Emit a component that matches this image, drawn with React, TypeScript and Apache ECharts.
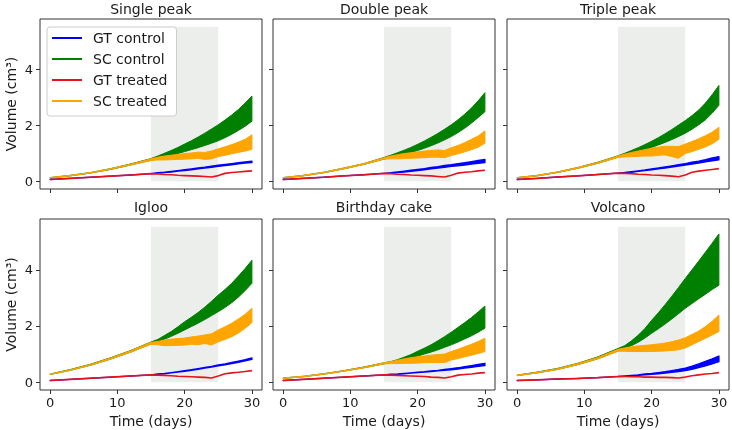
import React, { useEffect, useRef } from 'react';
import * as echarts from 'echarts';

const DAYS = [0, 3, 6, 9, 12, 15, 16, 17, 18, 19, 20, 21, 22, 23, 24, 25, 26, 27, 28, 29, 30];
const PANEL_TITLES = ['Single peak', 'Double peak', 'Triple peak', 'Igloo', 'Birthday cake', 'Volcano'];
const X_TICKS = [0, 10, 20, 30];
const Y_TICKS = [0, 2, 4];
const TREATMENT_WINDOW = [15, 25];
const TREATMENT_TOP = 5.53;

// SC control (green) band, lower and upper edges, one row per panel
const SC_CONTROL_LO = [
  [0.11, 0.19, 0.29, 0.42, 0.58, 0.75, 0.8, 0.86, 0.92, 0.99, 1.06, 1.13, 1.2, 1.28, 1.36, 1.45, 1.56, 1.68, 1.82, 1.97, 2.15],
  [0.11, 0.19, 0.3, 0.44, 0.6, 0.79, 0.85, 0.9, 0.96, 1.03, 1.1, 1.18, 1.27, 1.37, 1.48, 1.6, 1.74, 1.9, 2.08, 2.28, 2.49],
  [0.11, 0.19, 0.31, 0.46, 0.64, 0.86, 0.92, 0.98, 1.05, 1.13, 1.21, 1.3, 1.39, 1.49, 1.6, 1.72, 1.86, 2.02, 2.2, 2.44, 2.72],
  [0.27, 0.42, 0.6, 0.82, 1.07, 1.36, 1.44, 1.53, 1.63, 1.74, 1.86, 1.98, 2.1, 2.23, 2.37, 2.51, 2.66, 2.83, 3.03, 3.26, 3.52],
  [0.13, 0.19, 0.28, 0.39, 0.51, 0.65, 0.7, 0.74, 0.79, 0.86, 0.93, 1.0, 1.07, 1.15, 1.24, 1.33, 1.43, 1.54, 1.65, 1.78, 1.92],
  [0.23, 0.33, 0.45, 0.62, 0.83, 1.11, 1.2, 1.3, 1.42, 1.57, 1.74, 1.9, 2.07, 2.25, 2.44, 2.63, 2.8, 2.97, 3.13, 3.3, 3.45],
];
const SC_CONTROL_HI = [
  [0.13, 0.21, 0.31, 0.45, 0.62, 0.81, 0.9, 1.0, 1.1, 1.21, 1.33, 1.45, 1.58, 1.72, 1.87, 2.02, 2.19, 2.37, 2.57, 2.8, 3.05],
  [0.13, 0.21, 0.32, 0.47, 0.63, 0.85, 0.93, 1.02, 1.11, 1.21, 1.32, 1.44, 1.57, 1.71, 1.86, 2.02, 2.2, 2.4, 2.62, 2.88, 3.17],
  [0.13, 0.21, 0.33, 0.49, 0.68, 0.91, 1.0, 1.1, 1.2, 1.31, 1.43, 1.56, 1.7, 1.85, 2.01, 2.17, 2.35, 2.55, 2.8, 3.1, 3.43],
  [0.29, 0.45, 0.64, 0.87, 1.13, 1.43, 1.52, 1.66, 1.8, 1.97, 2.15, 2.31, 2.48, 2.67, 2.88, 3.1, 3.3, 3.52, 3.78, 4.05, 4.34],
  [0.15, 0.21, 0.3, 0.41, 0.54, 0.69, 0.73, 0.8, 0.89, 0.98, 1.1, 1.21, 1.33, 1.47, 1.62, 1.78, 1.95, 2.12, 2.3, 2.5, 2.71],
  [0.25, 0.36, 0.49, 0.67, 0.9, 1.2, 1.3, 1.47, 1.67, 1.91, 2.2, 2.47, 2.76, 3.06, 3.37, 3.69, 4.0, 4.31, 4.63, 4.95, 5.28],
];

// SC treated (orange) band
const SC_TREATED_LO = [
  [0.11, 0.19, 0.29, 0.43, 0.58, 0.74, 0.76, 0.76, 0.77, 0.78, 0.79, 0.8, 0.82, 0.78, 0.8, 0.88, 0.93, 0.98, 1.03, 1.08, 1.14],
  [0.11, 0.19, 0.3, 0.44, 0.6, 0.79, 0.8, 0.8, 0.81, 0.82, 0.83, 0.84, 0.86, 0.86, 0.84, 0.92, 0.98, 1.05, 1.13, 1.22, 1.36],
  [0.11, 0.19, 0.31, 0.46, 0.64, 0.85, 0.87, 0.88, 0.89, 0.9, 0.9, 0.93, 0.94, 0.88, 0.82, 0.99, 1.06, 1.14, 1.23, 1.34, 1.5],
  [0.27, 0.42, 0.6, 0.82, 1.07, 1.35, 1.33, 1.3, 1.3, 1.31, 1.32, 1.35, 1.33, 1.38, 1.32, 1.44, 1.52, 1.62, 1.75, 1.92, 2.12],
  [0.13, 0.19, 0.28, 0.39, 0.51, 0.65, 0.66, 0.66, 0.67, 0.67, 0.68, 0.69, 0.7, 0.7, 0.7, 0.79, 0.84, 0.9, 0.96, 1.02, 1.09],
  [0.23, 0.33, 0.45, 0.62, 0.83, 1.1, 1.1, 1.09, 1.09, 1.09, 1.09, 1.1, 1.11, 1.13, 1.15, 1.22, 1.33, 1.45, 1.56, 1.68, 1.8],
];
const SC_TREATED_HI = [
  [0.13, 0.21, 0.31, 0.45, 0.61, 0.8, 0.86, 0.9, 0.93, 0.96, 0.99, 1.01, 1.04, 1.03, 1.08, 1.16, 1.23, 1.31, 1.4, 1.5, 1.66],
  [0.13, 0.21, 0.32, 0.47, 0.63, 0.84, 0.9, 0.95, 0.99, 1.02, 1.05, 1.08, 1.1, 1.12, 1.1, 1.2, 1.28, 1.38, 1.5, 1.62, 1.8],
  [0.13, 0.21, 0.33, 0.49, 0.67, 0.9, 0.97, 1.03, 1.08, 1.13, 1.18, 1.22, 1.25, 1.25, 1.24, 1.33, 1.42, 1.52, 1.63, 1.76, 1.93],
  [0.29, 0.44, 0.63, 0.86, 1.12, 1.42, 1.45, 1.5, 1.53, 1.55, 1.57, 1.61, 1.64, 1.68, 1.72, 1.86, 1.97, 2.1, 2.25, 2.42, 2.63],
  [0.15, 0.21, 0.3, 0.41, 0.53, 0.69, 0.73, 0.78, 0.83, 0.87, 0.9, 0.93, 0.96, 0.98, 1.0, 1.09, 1.17, 1.26, 1.35, 1.45, 1.56],
  [0.25, 0.35, 0.48, 0.66, 0.88, 1.17, 1.22, 1.26, 1.29, 1.31, 1.33, 1.36, 1.39, 1.44, 1.5, 1.58, 1.7, 1.82, 1.98, 2.17, 2.39],
];

// GT control (blue) band
const GT_CONTROL_LO = [
  [0.06, 0.1, 0.14, 0.18, 0.22, 0.27, 0.29, 0.31, 0.33, 0.36, 0.38, 0.41, 0.44, 0.47, 0.5, 0.53, 0.56, 0.59, 0.62, 0.65, 0.67],
  [0.06, 0.1, 0.14, 0.19, 0.23, 0.28, 0.29, 0.31, 0.33, 0.35, 0.38, 0.41, 0.44, 0.47, 0.5, 0.53, 0.55, 0.58, 0.61, 0.64, 0.67],
  [0.06, 0.1, 0.15, 0.19, 0.24, 0.29, 0.3, 0.32, 0.35, 0.38, 0.41, 0.44, 0.47, 0.51, 0.54, 0.58, 0.61, 0.65, 0.69, 0.73, 0.77],
  [0.06, 0.1, 0.14, 0.18, 0.22, 0.26, 0.28, 0.3, 0.33, 0.36, 0.39, 0.42, 0.46, 0.5, 0.54, 0.58, 0.62, 0.66, 0.71, 0.76, 0.81],
  [0.06, 0.1, 0.14, 0.18, 0.22, 0.26, 0.27, 0.28, 0.3, 0.32, 0.34, 0.36, 0.38, 0.4, 0.42, 0.44, 0.47, 0.5, 0.53, 0.56, 0.59],
  [0.06, 0.08, 0.11, 0.13, 0.16, 0.2, 0.21, 0.22, 0.24, 0.26, 0.28, 0.3, 0.32, 0.35, 0.38, 0.41, 0.46, 0.52, 0.58, 0.65, 0.73],
];
const GT_CONTROL_HI = [
  [0.06, 0.1, 0.14, 0.18, 0.22, 0.27, 0.3, 0.32, 0.35, 0.38, 0.41, 0.44, 0.47, 0.5, 0.54, 0.57, 0.6, 0.63, 0.66, 0.69, 0.72],
  [0.06, 0.1, 0.14, 0.19, 0.23, 0.28, 0.3, 0.33, 0.36, 0.39, 0.42, 0.45, 0.49, 0.52, 0.56, 0.59, 0.63, 0.66, 0.7, 0.74, 0.78],
  [0.06, 0.1, 0.15, 0.19, 0.24, 0.29, 0.31, 0.34, 0.37, 0.4, 0.44, 0.47, 0.51, 0.55, 0.59, 0.63, 0.68, 0.72, 0.77, 0.83, 0.88],
  [0.06, 0.1, 0.14, 0.18, 0.22, 0.26, 0.29, 0.31, 0.34, 0.37, 0.41, 0.44, 0.48, 0.52, 0.56, 0.61, 0.65, 0.7, 0.75, 0.8, 0.86],
  [0.06, 0.1, 0.14, 0.18, 0.22, 0.26, 0.28, 0.29, 0.31, 0.33, 0.35, 0.37, 0.4, 0.42, 0.45, 0.48, 0.51, 0.55, 0.59, 0.63, 0.67],
  [0.06, 0.08, 0.11, 0.13, 0.16, 0.2, 0.22, 0.24, 0.26, 0.29, 0.31, 0.34, 0.37, 0.41, 0.45, 0.5, 0.57, 0.65, 0.74, 0.83, 0.93],
];

// GT treated (red) line
const GT_TREATED = [
  [0.06, 0.1, 0.14, 0.18, 0.22, 0.27, 0.26, 0.24, 0.23, 0.21, 0.2, 0.19, 0.18, 0.17, 0.15, 0.2, 0.28, 0.31, 0.33, 0.35, 0.37],
  [0.06, 0.1, 0.14, 0.19, 0.23, 0.28, 0.27, 0.25, 0.24, 0.22, 0.21, 0.2, 0.19, 0.17, 0.15, 0.21, 0.29, 0.32, 0.34, 0.37, 0.39],
  [0.06, 0.1, 0.15, 0.19, 0.24, 0.29, 0.28, 0.27, 0.25, 0.24, 0.22, 0.21, 0.2, 0.18, 0.16, 0.22, 0.32, 0.36, 0.39, 0.42, 0.45],
  [0.06, 0.1, 0.14, 0.18, 0.22, 0.26, 0.25, 0.24, 0.23, 0.21, 0.2, 0.19, 0.18, 0.17, 0.15, 0.22, 0.3, 0.33, 0.35, 0.38, 0.41],
  [0.06, 0.1, 0.14, 0.18, 0.22, 0.26, 0.25, 0.24, 0.23, 0.22, 0.21, 0.2, 0.18, 0.17, 0.15, 0.19, 0.25, 0.27, 0.29, 0.32, 0.34],
  [0.06, 0.08, 0.11, 0.13, 0.16, 0.2, 0.2, 0.19, 0.19, 0.18, 0.18, 0.17, 0.17, 0.16, 0.15, 0.18, 0.23, 0.26, 0.29, 0.31, 0.34],
];

const COLORS: Record<string, string> = {
  'GT control': '#0000ff',
  'SC control': '#008000',
  'GT treated': '#e8121c',
  'SC treated': '#ffa500',
};

const FONT = 'DejaVu Sans';
const TEXT_COLOR = '#1a1a1a';
const FRAME_COLOR = '#333333';

const GRID_LEFTS = [40, 273, 507];
const GRID_TOPS = [19, 219];
const GRID_W = 222;
const GRID_HS = [170, 171];

function bandSeries(name: string, i: number, lo: number[], hi: number[], z: number, edge: number) {
  const color = COLORS[name];
  return {
    type: 'custom',
    name,
    xAxisIndex: i,
    yAxisIndex: i,
    z,
    silent: true,
    itemStyle: { color },
    data: DAYS.map((d, k) => [d, lo[k], hi[k]]),
    encode: { x: 0, y: [1, 2] },
    renderItem: (params: any, api: any) => {
      if (params.dataIndex !== 0) return null;
      const pts: number[][] = [];
      for (let k = 0; k < DAYS.length; k++) pts.push(api.coord([DAYS[k], hi[k]]));
      for (let k = DAYS.length - 1; k >= 0; k--) pts.push(api.coord([DAYS[k], lo[k]]));
      return {
        type: 'polygon',
        shape: { points: pts },
        style: { fill: color, stroke: color, lineWidth: edge, lineJoin: 'round' },
      };
    },
  };
}

export default function App() {
  const ref = useRef<HTMLDivElement>(null);

  useEffect(() => {
    if (!ref.current) return;
    const chart = echarts.init(ref.current, undefined, { renderer: 'svg' });

    const grids: any[] = [];
    const xAxes: any[] = [];
    const yAxes: any[] = [];
    const series: any[] = [];
    const graphics: any[] = [];

    for (let i = 0; i < 6; i++) {
      const row = Math.floor(i / 3);
      const col = i % 3;
      const left = GRID_LEFTS[col];
      const top = GRID_TOPS[row];
      const h = GRID_HS[row];
      grids.push({
        left,
        top,
        width: GRID_W,
        height: h,
        show: true,
        borderColor: FRAME_COLOR,
        borderWidth: 1,
        backgroundColor: 'transparent',
        containLabel: false,
      });
      xAxes.push({
        type: 'value',
        gridIndex: i,
        position: 'bottom',
        min: -1.5,
        max: 31.5,
        axisLine: { show: false, onZero: false },
        splitLine: { show: false },
        axisTick: { show: true, customValues: X_TICKS, length: 4, lineStyle: { color: FRAME_COLOR, width: 1 } },
        axisLabel: {
          show: row === 1,
          customValues: X_TICKS,
          fontSize: 13,
          color: TEXT_COLOR,
          fontFamily: FONT,
          margin: 6,
        },
      });
      yAxes.push({
        type: 'value',
        gridIndex: i,
        position: 'left',
        min: -0.28,
        max: 5.81,
        axisLine: { show: false, onZero: false },
        splitLine: { show: false },
        axisTick: { show: true, customValues: Y_TICKS, length: 4, lineStyle: { color: FRAME_COLOR, width: 1 } },
        axisLabel: {
          show: col === 0,
          customValues: Y_TICKS,
          fontSize: 13,
          color: TEXT_COLOR,
          fontFamily: FONT,
          margin: 7,
        },
      });

      // treatment window shading
      series.push({
        type: 'line',
        name: 'window',
        xAxisIndex: i,
        yAxisIndex: i,
        z: 1,
        silent: true,
        symbol: 'none',
        data: [[TREATMENT_WINDOW[0], 0]],
        lineStyle: { width: 0, opacity: 0 },
        markArea: {
          silent: true,
          itemStyle: { color: '#eceeeb' },
          data: [[{ coord: [TREATMENT_WINDOW[0], 0] }, { coord: [TREATMENT_WINDOW[1], TREATMENT_TOP] }]],
        },
      });

      series.push(bandSeries('SC control', i, SC_CONTROL_LO[i], SC_CONTROL_HI[i], 2, 1));
      series.push(bandSeries('SC treated', i, SC_TREATED_LO[i], SC_TREATED_HI[i], 3, 1));
      series.push(bandSeries('GT control', i, GT_CONTROL_LO[i], GT_CONTROL_HI[i], 4, 1.4));
      series.push({
        type: 'line',
        name: 'GT treated',
        xAxisIndex: i,
        yAxisIndex: i,
        z: 5,
        silent: true,
        symbol: 'none',
        data: DAYS.map((d, k) => [d, GT_TREATED[i][k]]),
        lineStyle: { color: COLORS['GT treated'], width: 1.6 },
        itemStyle: { color: COLORS['GT treated'] },
      });

      const cx = left + GRID_W / 2;
      graphics.push({
        type: 'text',
        x: cx,
        y: row === 0 ? 8.5 : 207,
        silent: true,
        style: {
          text: PANEL_TITLES[i],
          fill: TEXT_COLOR,
          font: `14px "${FONT}"`,
          textAlign: 'center',
          textVerticalAlign: 'middle',
          verticalAlign: 'middle',
        },
      });
      if (row === 1) {
        graphics.push({
          type: 'text',
          x: cx,
          y: 421,
          silent: true,
          style: {
            text: 'Time (days)',
            fill: TEXT_COLOR,
            font: `14px "${FONT}"`,
            textAlign: 'center',
            textVerticalAlign: 'middle',
            verticalAlign: 'middle',
          },
        });
      }
      if (col === 0) {
        graphics.push({
          type: 'text',
          x: 11,
          y: top + h / 2,
          rotation: Math.PI / 2,
          silent: true,
          style: {
            text: 'Volume (cm³)',
            fill: TEXT_COLOR,
            font: `14px "${FONT}"`,
            textAlign: 'center',
            textVerticalAlign: 'middle',
            verticalAlign: 'middle',
          },
        });
      }
    }

    const legendNames = ['GT control', 'SC control', 'GT treated', 'SC treated'];

    chart.setOption({
      animation: false,
      textStyle: { fontFamily: FONT },
      grid: grids,
      xAxis: xAxes,
      yAxis: yAxes,
      series,
      graphic: graphics,
      legend: {
        show: true,
        left: 47,
        top: 27,
        orient: 'vertical',
        selectedMode: false,
        icon: 'rect',
        itemWidth: 30,
        itemHeight: 2,
        itemGap: 7,
        padding: [4, 9, 8, 5],
        backgroundColor: '#ffffff',
        borderColor: '#cccccc',
        borderWidth: 1,
        borderRadius: 3,
        textStyle: { fontSize: 14, color: TEXT_COLOR, fontFamily: FONT, padding: [0, 0, 0, 6] },
        data: legendNames.map((n) => ({ name: n, icon: 'rect', itemStyle: { color: COLORS[n] } })),
      },
    });

    return () => {
      chart.dispose();
    };
  }, []);

  return <div ref={ref} style={{ position: 'fixed', left: 0, top: 0, width: 732, height: 430 }} />;
}
